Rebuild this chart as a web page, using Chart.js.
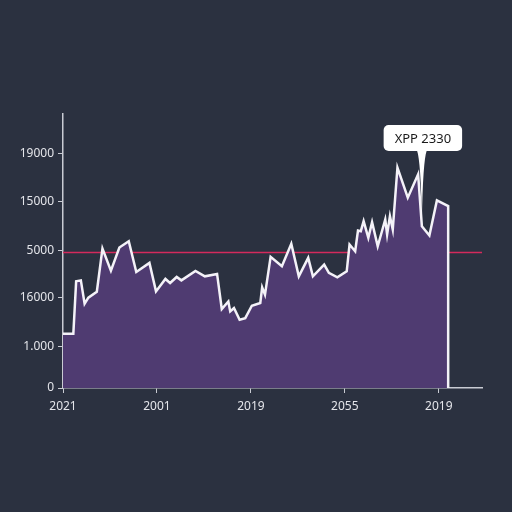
<!doctype html>
<html>
  <head>
    <title>XPP</title>
    <style>
      body { margin: 0; background: #2b3140; }
    </style>
  </head>
  <body>
    <div>
      <canvas id="myChart" width="512" height="512"></canvas>
    </div>
  </body>
  <script src="https://cdn.jsdelivr.net/npm/chart.js"></script>
  <script>
    // tick labels as printed on the picture
    const xTickValues = [0, 1, 2, 3, 4];
    const xTickLabels = ['2021', '2001', '2019', '2055', '2019'];
    const yTickValues = [0, 854, 1875, 2854, 3875, 4875];
    const yTickLabels = ['0', '1.000', '16000', '5000', '15000', '19000'];

    // series
    const xs = [0.00, 0.11, 0.14, 0.19, 0.23, 0.27, 0.36, 0.42, 0.51, 0.60,
      0.70, 0.78, 0.92, 0.99, 1.09, 1.14, 1.21, 1.26, 1.41, 1.51,
      1.64, 1.69, 1.76, 1.78, 1.82, 1.88, 1.94, 2.01, 2.10, 2.12,
      2.15, 2.21, 2.33, 2.43, 2.51, 2.61, 2.66, 2.78, 2.83, 2.92,
      3.02, 3.05, 3.11, 3.14, 3.17, 3.20, 3.25, 3.29, 3.35, 3.43,
      3.45, 3.48, 3.51, 3.56, 3.67, 3.78, 3.82, 3.90, 3.98, 4.10, 4.10];
    const ys = [1125, 1125, 2215, 2235, 1750, 1875, 2000, 2896, 2438, 2917,
      3048, 2410, 2598, 2006, 2265, 2181, 2306, 2235, 2431, 2319,
      2369, 1640, 1798, 1590, 1660, 1417, 1452, 1708, 1765, 2090,
      1938, 2723, 2527, 2994, 2319, 2702, 2319, 2562, 2390, 2298,
      2423, 2979, 2840, 3271, 3256, 3465, 3119, 3444, 2944, 3500,
      3188, 3569, 3292, 4577, 3952, 4438, 3360, 3167, 3896, 3777, 0];

    const refLevel = 2812;
    const xMax = 4.46;
    const yMax = 5690;

    const callout = { x: 3.82, y: 3360, text: 'XPP 2330' };

    const axisColor = '#c9cbd3';
    const textColor = '#e4e5ea';

    const calloutPlugin = {
      id: 'callout',
      afterDatasetsDraw(chart) {
        const c = chart.ctx;
        const px = chart.scales.x.getPixelForValue(callout.x);
        const py = chart.scales.y.getPixelForValue(callout.y) - 6;
        c.save();
        c.font = '13px "Noto Sans"';
        const w = c.measureText(callout.text).width + 22;
        const h = 26;
        const bx = px + 1 - w / 2;
        const by = chart.chartArea.top + 11;
        c.fillStyle = '#ffffff';
        c.beginPath();
        c.roundRect(bx, by, w, h, 5);
        c.fill();
        c.beginPath();
        c.moveTo(px - 5, by + h - 1);
        c.quadraticCurveTo(px - 1, by + h + 10, px, py);
        c.quadraticCurveTo(px + 1, by + h + 10, px + 5, by + h - 1);
        c.closePath();
        c.fill();
        c.fillStyle = '#1a1a1a';
        c.textAlign = 'center';
        c.textBaseline = 'middle';
        c.fillText(callout.text, px + 1, by + h / 2 + 1);
        c.restore();
      }
    };

    const ctx = document.getElementById('myChart');
    const chart = new Chart(ctx, {
      type: 'line',
      data: {
        datasets: [{
          data: xs.map((x, i) => ({ x: x, y: ys[i] })),
          borderColor: '#f4f2f8',
          borderWidth: 2.5,
          backgroundColor: '#4f3b71',
          fill: 'origin',
          pointRadius: 0,
          tension: 0
        }, {
          data: [{ x: 0, y: refLevel }, { x: xMax, y: refLevel }],
          borderColor: '#d42a5c',
          borderWidth: 1.5,
          pointRadius: 0,
          fill: false
        }]
      },
      options: {
        responsive: false,
        animation: false,
        layout: { padding: { top: 114, right: 30, left: 0, bottom: 0 } },
        plugins: {
          legend: { display: false },
          tooltip: { enabled: false }
        },
        scales: {
          x: {
            type: 'linear',
            min: 0,
            max: xMax,
            afterBuildTicks: (s) => { s.ticks = xTickValues.map(v => ({ value: v })); },
            afterFit: (s) => { s.height = 124; },
            grid: { drawOnChartArea: false, color: axisColor, tickLength: 5 },
            border: { color: axisColor, width: 1.5 },
            ticks: {
              color: textColor,
              font: { family: 'Noto Sans', size: 12 },
              padding: 6,
              maxRotation: 0,
              callback: (v, i) => xTickLabels[i]
            }
          },
          y: {
            min: 0,
            max: yMax,
            afterBuildTicks: (s) => { s.ticks = yTickValues.map(v => ({ value: v })); },
            afterFit: (s) => { s.width = 63; },
            grid: { drawOnChartArea: false, color: axisColor, tickLength: 5 },
            border: { color: axisColor, width: 1.5 },
            ticks: {
              color: textColor,
              font: { family: 'Noto Sans', size: 12 },
              padding: 4,
              callback: (v, i) => yTickLabels[i]
            }
          }
        }
      },
      plugins: [calloutPlugin]
    });
  </script>
</html>
